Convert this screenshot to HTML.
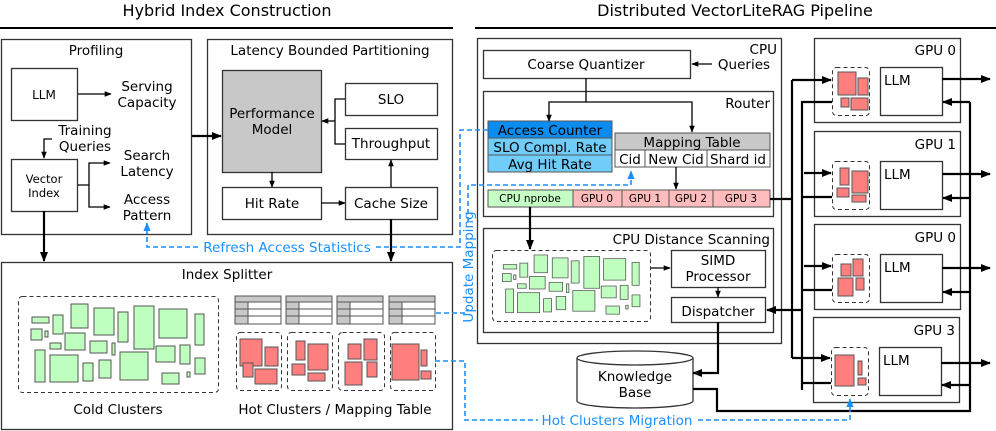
<!DOCTYPE html>
<html><head><meta charset="utf-8"><style>
body{margin:0;background:#fff;}
svg{display:block;font-family:"DejaVu Sans","Liberation Sans",sans-serif;}
</style></head><body>
<svg width="996" height="431" viewBox="0 0 996 431" xmlns="http://www.w3.org/2000/svg">
<defs>
<marker id="a" viewBox="0 0 10 10" refX="9" refY="5" markerWidth="7" markerHeight="7" orient="auto-start-reverse" markerUnits="userSpaceOnUse"><path d="M0,1 L10,5 L0,9 z" fill="#000"/></marker>
<marker id="A" viewBox="0 0 10 10" refX="9" refY="5" markerWidth="10" markerHeight="10" orient="auto-start-reverse" markerUnits="userSpaceOnUse"><path d="M0,1 L10,5 L0,9 z" fill="#000"/></marker>
<marker id="b" viewBox="0 0 10 10" refX="9" refY="5" markerWidth="9" markerHeight="9" orient="auto-start-reverse" markerUnits="userSpaceOnUse"><path d="M0,1 L10,5 L0,9 z" fill="#1a8fff"/></marker>
<g id="cold" stroke="#555" stroke-width="1" fill="#bfffbf">
<rect x="32" y="317" width="17" height="6"/><rect x="53" y="315" width="10" height="19"/><rect x="71" y="304" width="17" height="24"/><rect x="94" y="308" width="20" height="27"/><rect x="118" y="312" width="10" height="30"/><rect x="134" y="306" width="20" height="43"/><rect x="159" y="309" width="28" height="29"/><rect x="195" y="314" width="9" height="31"/>
<rect x="31" y="329" width="11" height="11"/><rect x="45" y="331" width="3" height="6"/><rect x="65" y="333" width="20" height="17"/><rect x="90" y="341" width="17" height="12"/><rect x="112" y="343" width="3" height="12"/><rect x="50" y="343" width="11" height="6"/><rect x="156" y="346" width="19" height="16"/><rect x="180" y="345" width="10" height="19"/>
<rect x="35" y="350" width="10" height="32"/><rect x="50" y="355" width="28" height="27"/><rect x="83" y="363" width="10" height="18"/><rect x="99" y="360" width="12" height="18"/><rect x="120" y="352" width="28" height="28"/><rect x="162" y="373" width="17" height="11"/><rect x="187" y="372" width="3" height="5"/><rect x="195" y="358" width="10" height="16"/>
</g>
</defs>
<g font-size="16" text-anchor="middle" fill="#000">
<text x="227" y="16">Hybrid Index Construction</text>
<text x="735" y="16">Distributed VectorLiteRAG Pipeline</text>
</g>
<line x1="0" y1="28" x2="453" y2="28" stroke="#000" stroke-width="2"/>
<line x1="475" y1="28" x2="996" y2="28" stroke="#000" stroke-width="2"/>

<g fill="none" stroke="#333" stroke-width="1.3">
<rect x="1.5" y="39.5" width="190" height="195"/>
<rect x="207.5" y="39.5" width="245" height="195"/>
<rect x="1.5" y="262.5" width="451" height="167"/>
<rect x="11.5" y="68.5" width="66" height="52"/>
<rect x="11.5" y="159.5" width="66" height="52"/>
<rect x="345.5" y="83.5" width="92" height="32"/>
<rect x="345.5" y="128.5" width="92" height="31"/>
<rect x="222.5" y="187.5" width="99" height="32"/>
<rect x="345.5" y="187.5" width="92" height="32"/>
</g>
<rect x="222.5" y="70.5" width="99" height="102" fill="#c8c8c8" stroke="#333" stroke-width="1.3"/>
<g font-size="13.5" text-anchor="middle">
<text x="96" y="55">Profiling</text>
<text x="330" y="55">Latency Bounded Partitioning</text>
<text x="44" y="99" font-size="12">LLM</text>
<text x="147" y="91">Serving</text><text x="147" y="107">Capacity</text>
<text x="85" y="135">Training</text><text x="85" y="151">Queries</text>
<text x="44" y="183" font-size="11.5">Vector</text><text x="44" y="197" font-size="11.5">Index</text>
<text x="147" y="160">Search</text><text x="147" y="176">Latency</text>
<text x="147" y="204">Access</text><text x="147" y="220">Pattern</text>
<text x="272" y="118">Performance</text><text x="272" y="134">Model</text>
<text x="391" y="104">SLO</text><text x="391" y="148">Throughput</text>
<text x="272" y="208">Hit Rate</text><text x="391" y="208">Cache Size</text>
<text x="227" y="279">Index Splitter</text>
<text x="118" y="414">Cold Clusters</text>
<text x="335" y="414">Hot Clusters / Mapping Table</text>
</g>
<g stroke="#000" stroke-width="1.3" fill="none">
<path d="M78,94 H111" marker-end="url(#a)"/>
<path d="M52,139 H44 V158" marker-end="url(#a)"/>
<path d="M78,185 H89 V163 H110" marker-end="url(#a)"/>
<path d="M89,185 V207 H110" marker-end="url(#a)"/>
<path d="M345,99 H335 V144 H345"/>
<path d="M335,121 H322" marker-end="url(#a)"/>
<path d="M272,172 V187" marker-end="url(#a)"/>
<path d="M321,203 H345" marker-end="url(#a)"/>
<path d="M391,187 V160" marker-end="url(#a)"/>
</g>
<g stroke="#000" stroke-width="2.2" fill="none">
<path d="M44,211 V261" marker-end="url(#A)"/>
<path d="M192,136 H221" marker-end="url(#A)"/>
<path d="M391,219 V261" marker-end="url(#A)"/>
</g>
<rect x="18.5" y="296.5" width="200" height="96" rx="4" fill="none" stroke="#333" stroke-dasharray="4,3"/>
<use href="#cold"/>
<g stroke="#555" stroke-width="1">
<g id="tb"><rect x="235" y="296" width="46" height="28" fill="#fff"/><rect x="235" y="296" width="46" height="6" fill="#c8c8c8"/><rect x="235" y="302" width="13" height="22" fill="#c8c8c8"/><line x1="235" y1="309" x2="281" y2="309"/><line x1="235" y1="316" x2="281" y2="316"/></g>
<use href="#tb" x="51"/><use href="#tb" x="102"/><use href="#tb" x="154"/>
</g>
<g fill="none" stroke="#333" stroke-dasharray="4,3">
<rect x="236.5" y="332.5" width="45" height="58" rx="4"/><rect x="287.5" y="332.5" width="45" height="58" rx="4"/><rect x="338.5" y="332.5" width="46" height="58" rx="4"/><rect x="390.5" y="332.5" width="45" height="58" rx="4"/>
</g>
<g fill="#ff7f7f" stroke="#555">
<rect x="240" y="339" width="22" height="27"/><rect x="265" y="347" width="13" height="19"/><rect x="243" y="363" width="10" height="14"/><rect x="255" y="369" width="22" height="15"/>
<rect x="296" y="341" width="9" height="19"/><rect x="308" y="344" width="20" height="26"/><rect x="292" y="364" width="13" height="11"/><rect x="308" y="373" width="17" height="8"/>
<rect x="348" y="344" width="13" height="15"/><rect x="364" y="339" width="13" height="21"/><rect x="345" y="362" width="17" height="23"/><rect x="367" y="362" width="10" height="15"/>
<rect x="392" y="344" width="27" height="36"/><rect x="421" y="350" width="6" height="16"/><rect x="421" y="371" width="10" height="8"/>
</g>

<g fill="none" stroke="#333" stroke-width="1.3">
<rect x="477.5" y="38.5" width="304" height="305"/>
<rect x="483.5" y="50.5" width="207" height="28"/>
<rect x="483.5" y="91.5" width="290" height="125"/>
<rect x="483.5" y="228.5" width="290" height="104"/>
<rect x="671.5" y="250.5" width="94" height="37"/>
<rect x="671.5" y="297.5" width="94" height="25"/>
<rect x="814.5" y="38.5" width="146" height="84"/>
<rect x="814.5" y="131.5" width="146" height="85"/>
<rect x="814.5" y="224.5" width="146" height="85"/>
<rect x="813.5" y="317.5" width="146" height="85"/>
<rect x="880.5" y="67.5" width="62" height="48"/>
<rect x="880.5" y="161.5" width="62" height="48"/>
<rect x="880.5" y="254.5" width="62" height="48"/>
<rect x="879.5" y="347.5" width="62" height="48"/>
</g>
<g stroke="#555" stroke-width="1">
<rect x="488" y="121" width="124" height="17" fill="#0a8cf0"/>
<rect x="488" y="138" width="124" height="17" fill="#70cdfa"/>
<rect x="488" y="155" width="124" height="17" fill="#70cdfa"/>
<rect x="615" y="133" width="155" height="17" fill="#c8c8c8"/>
<rect x="615" y="150" width="30" height="17" fill="#fff"/><rect x="645" y="150" width="62" height="17" fill="#fff"/><rect x="707" y="150" width="63" height="17" fill="#fff"/>
<rect x="488" y="190" width="85" height="17" fill="#c6ffc6"/>
<rect x="573" y="190" width="49" height="17" fill="#ffbcbc"/><rect x="622" y="190" width="47" height="17" fill="#ffbcbc"/><rect x="669" y="190" width="44" height="17" fill="#ffbcbc"/><rect x="713" y="190" width="57" height="17" fill="#ffbcbc"/>
</g>
<path d="M577,358 V401 A58,7 0 0 0 693,401 V358" fill="#fff" stroke="#333" stroke-width="1.3"/>
<ellipse cx="635" cy="358" rx="58" ry="7" fill="#fff" stroke="#333" stroke-width="1.3"/>
<g font-size="13.5" text-anchor="middle">
<text x="777" y="54" text-anchor="end">CPU</text>
<text x="586" y="69">Coarse Quantizer</text>
<text x="744" y="69">Queries</text>
<text x="770" y="108" text-anchor="end">Router</text>
<text x="550" y="135">Access Counter</text>
<text x="550" y="152">SLO Compl. Rate</text>
<text x="550" y="169">Avg Hit Rate</text>
<text x="692" y="147">Mapping Table</text>
<text x="630" y="164">Cid</text><text x="676" y="164">New Cid</text><text x="738" y="164">Shard id</text>
<text x="770" y="244" text-anchor="end">CPU Distance Scanning</text>
<text x="718" y="265">SIMD</text><text x="718" y="281">Processor</text>
<text x="718" y="316">Dispatcher</text>
<text x="635" y="381">Knowledge</text><text x="635" y="397">Base</text>
<text x="956" y="55" text-anchor="end">GPU 0</text>
<text x="956" y="149" text-anchor="end">GPU 1</text>
<text x="956" y="242" text-anchor="end">GPU 0</text>
<text x="955" y="335" text-anchor="end">GPU 3</text>
<text x="884" y="85" text-anchor="start">LLM</text>
<text x="884" y="179" text-anchor="start">LLM</text>
<text x="884" y="272" text-anchor="start">LLM</text>
<text x="883" y="365" text-anchor="start">LLM</text>
</g>
<g font-size="10.5" text-anchor="middle">
<text x="530" y="202">CPU nprobe</text><text x="597" y="202">GPU 0</text><text x="645" y="202">GPU 1</text><text x="691" y="202">GPU 2</text><text x="741" y="202">GPU 3</text>
</g>
<rect x="492.5" y="250.5" width="158" height="71" rx="4" fill="none" stroke="#333" stroke-dasharray="4,3"/>
<use href="#cold" transform="translate(478,30) scale(0.79,0.74)"/>
<g fill="none" stroke="#333" stroke-dasharray="4,3">
<rect x="832.5" y="67.5" width="37" height="48" rx="4"/><rect x="832.5" y="161.5" width="37" height="48" rx="4"/><rect x="832.5" y="254.5" width="37" height="48" rx="4"/><rect x="831.5" y="347.5" width="37" height="48" rx="4"/>
</g>
<g fill="#ff7f7f" stroke="#555">
<rect x="838" y="72" width="18" height="23"/><rect x="858" y="78" width="10" height="17"/><rect x="841" y="98" width="8" height="9"/><rect x="851" y="98" width="17" height="12"/>
<rect x="840" y="168" width="9" height="17"/><rect x="852" y="171" width="16" height="22"/><rect x="837" y="188" width="12" height="9"/><rect x="852" y="195" width="14" height="7"/>
<rect x="841" y="264" width="10" height="12"/><rect x="853" y="259" width="10" height="17"/><rect x="838" y="278" width="15" height="18"/><rect x="856" y="278" width="8" height="12"/>
<rect x="835" y="355" width="19" height="31"/><rect x="858" y="361" width="4" height="14"/><rect x="858" y="378" width="8" height="7"/>
</g>
<g stroke="#000" stroke-width="1.3" fill="none">
<path d="M712,64 H692" marker-end="url(#a)"/>
<path d="M586,78 V102 H549 V121" marker-end="url(#a)"/>
<path d="M586,102 H692 V132" marker-end="url(#a)"/>
<path d="M676,167 V189" marker-end="url(#a)"/>
<path d="M651,268 H670" marker-end="url(#a)"/>
<path d="M718,287 V297" marker-end="url(#a)"/>
</g>
<g stroke="#000" stroke-width="2.2" fill="none">
<path d="M530,207 V249" marker-end="url(#A)"/>
<path d="M770,199 H792"/>
<path d="M792,80 V358"/>
<path d="M792,80 H831" marker-end="url(#A)"/>
<path d="M804,173 H831" marker-end="url(#A)"/>
<path d="M804,266 H831" marker-end="url(#A)"/>
<path d="M792,358 H830" marker-end="url(#A)"/>
<path d="M832,102 H802 V390"/>
<path d="M832,197 H802"/><path d="M832,290 H802"/><path d="M831,383 H802"/>
<path d="M802,310 H767" marker-end="url(#A)"/>
<path d="M718,322 V373 H693" marker-end="url(#A)"/>
<path d="M693,389 H717 V411 H970 V102"/>
<path d="M970,102 H943" marker-end="url(#A)"/>
<path d="M970,198 H943" marker-end="url(#A)"/>
<path d="M970,292 H943" marker-end="url(#A)"/>
<path d="M970,385 H942" marker-end="url(#A)"/>
<path d="M942,79 H990" marker-end="url(#A)"/>
<path d="M942,174 H990" marker-end="url(#A)"/>
<path d="M942,268 H990" marker-end="url(#A)"/>
<path d="M941,363 H990" marker-end="url(#A)"/>
</g>
<g stroke="#1a8fff" stroke-width="1.6" fill="none" stroke-dasharray="5,3">
<path d="M198,247 H147 V223" marker-end="url(#b)"/>
<path d="M376,247 H460 V130 H488"/>
<path d="M436,313 H468"/>
<path d="M468,310 V185 H631 V171" marker-end="url(#b)"/>
<path d="M435,361 H465 V420 H538"/>
<path d="M698,420 H850 V399" marker-end="url(#b)"/>
</g>
<rect x="462" y="225" width="14" height="84" fill="#fff"/>
<g fill="#1a8fff" font-size="13.5" text-anchor="middle">
<text x="287" y="252">Refresh Access Statistics</text>
<text x="617" y="425">Hot Clusters Migration</text>
<text transform="translate(473,267) rotate(-90)">Update Mapping</text>
</g>
</svg>
</body></html>
